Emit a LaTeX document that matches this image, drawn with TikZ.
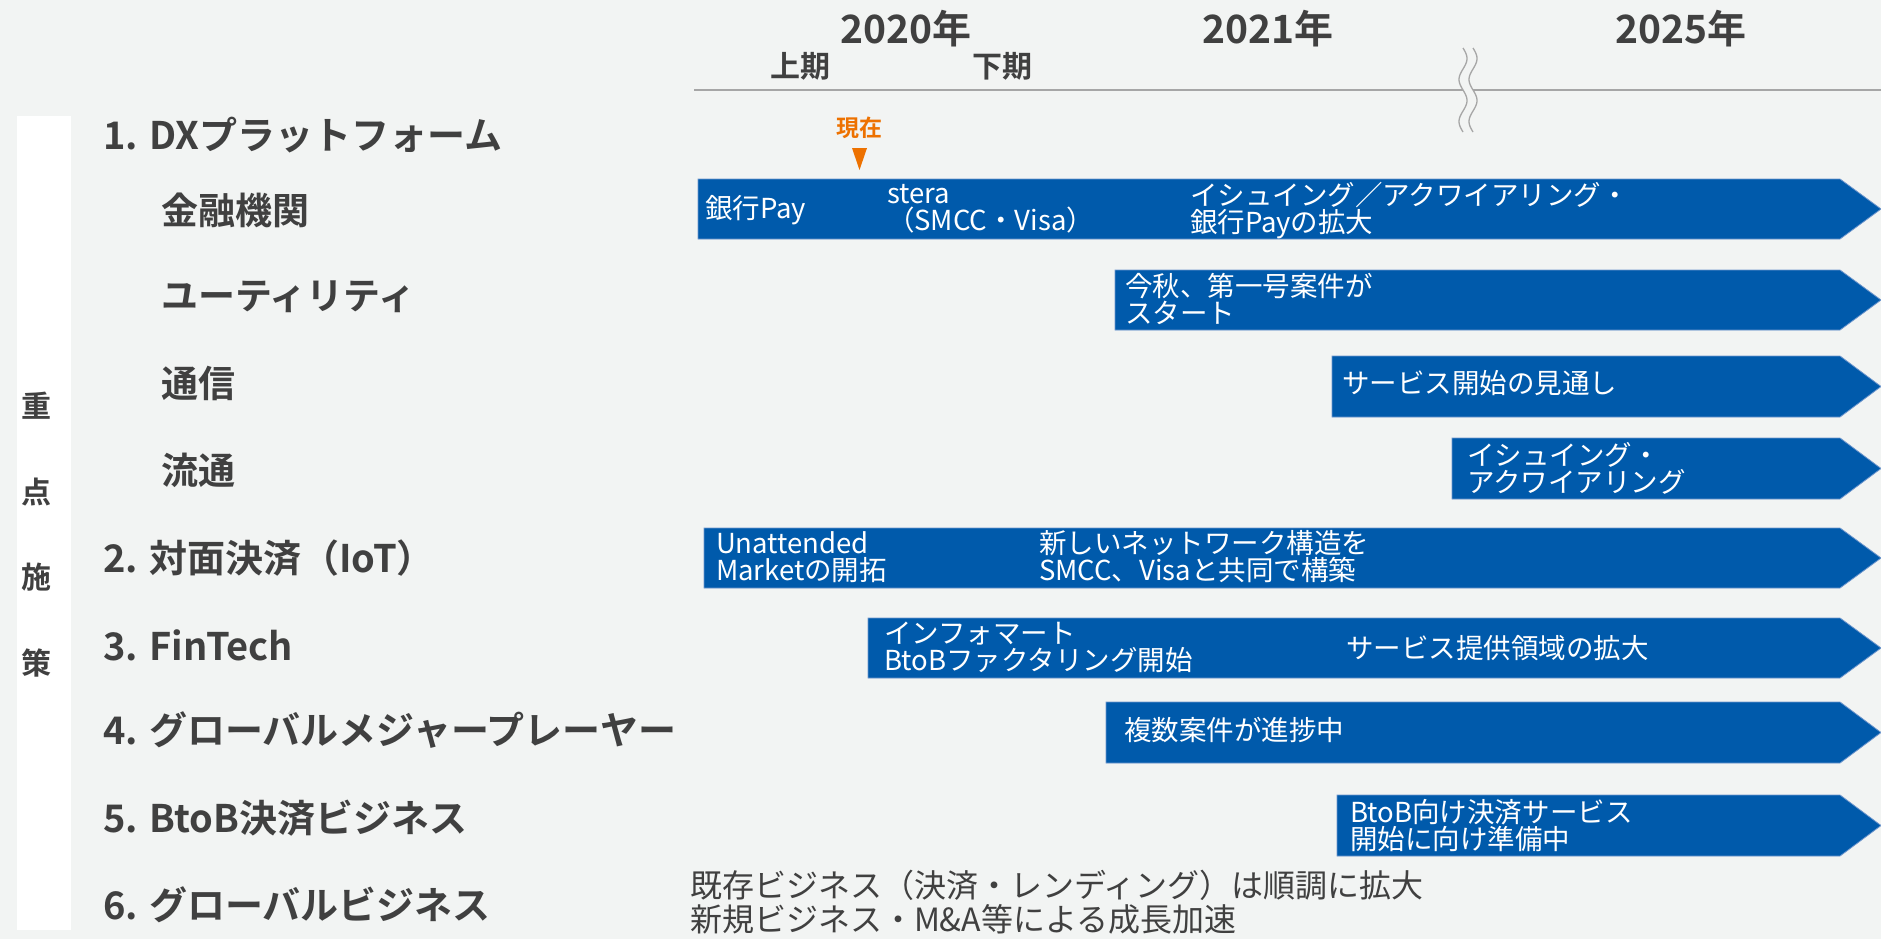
\documentclass[tikz,border=0pt]{standalone}
\usepackage{fontspec}
\setmainfont{Noto Sans CJK JP}[BoldFont={Noto Sans CJK JP Bold}]
\definecolor{bgcol}{RGB}{242,244,243}
\definecolor{barblue}{RGB}{0,90,171}
\definecolor{baredge}{RGB}{110,150,205}
\definecolor{txtgray}{RGB}{64,64,64}
\definecolor{linegray}{RGB}{166,166,166}
\definecolor{nowor}{RGB}{237,113,0}
\newcommand\arrowbarshape[3]{\path[arrowbar] (#1,#2) -- (1840,#2) -- (1881,{(#2+#3)/2}) -- (1840,#3) -- (#1,#3) -- cycle;}
\begin{document}
\begin{tikzpicture}[x=1pt,y=-1pt,
  every node/.style={inner sep=0pt, outer sep=0pt},
  arrowbar/.style={fill=barblue, draw=baredge, line width=0.8pt},
  catlabel/.style={anchor=west, text=txtgray, font=\fontsize{38}{44}\selectfont\bfseries},
  sublabel/.style={anchor=west, text=txtgray, font=\fontsize{37}{44}\selectfont\bfseries},
  vchar/.style={text=txtgray, font=\fontsize{30}{34}\selectfont\bfseries},
  yearlabel/.style={text=txtgray, font=\fontsize{39}{44}\selectfont\bfseries},
  halflabel/.style={text=txtgray, font=\fontsize{30}{34}\selectfont\bfseries},
  nowlabel/.style={text=nowor, font=\fontsize{23}{26}\selectfont\bfseries},
  bartext/.style={anchor=west, align=left, text=white, font=\fontsize{27.5}{27}\selectfont},
  bottomtxt/.style={anchor=west, align=left, text=txtgray, font=\fontsize{32}{34}\selectfont}
]
\useasboundingbox (0,0) rectangle (1881,939);
\fill[bgcol] (0,0) rectangle (1881,939);
\fill[white] (17,116) rectangle (71,930);

% header
\draw[linegray, line width=2pt] (694,90) -- (1881,90);
\fill[bgcol] plot[domain=48:132, samples=60] ({1463+4*sin((\x-48)*8.5714)}, \x)
  -- plot[domain=132:48, samples=60] ({1473+4*sin((\x-48)*8.5714)}, \x) -- cycle;
\draw[linegray, line width=1.3pt] plot[domain=48:132, samples=60] ({1463+4*sin((\x-48)*8.5714)}, \x);
\draw[linegray, line width=1.3pt] plot[domain=48:132, samples=60] ({1473+4*sin((\x-48)*8.5714)}, \x);

\node[yearlabel] (y20) at (906,29) {2020年};
\node[yearlabel] (y21) at (1268,29) {2021年};
\node[yearlabel] (y25) at (1681,29) {2025年};
\node[halflabel] (h1) at (800,66) {上期};
\node[halflabel] (h2) at (1002,66) {下期};
\node[nowlabel] (now) at (859,128) {現在};
\fill[nowor] (852,148) -- (867,148) -- (859.5,170) -- cycle;

% left labels
\node[vchar] (v1) at (36,406) {重};
\node[vchar] (v2) at (36,492) {点};
\node[vchar] (v3) at (36,577) {施};
\node[vchar] (v4) at (36,663) {策};

\node[catlabel] (c1) at (103,135) {1. DXプラットフォーム};
\node[sublabel] (s1) at (161,210) {金融機関};
\node[sublabel] (s2) at (161,297) {ユーティリティ};
\node[sublabel] (s3) at (161,383) {通信};
\node[sublabel] (s4) at (161,470) {流通};
\node[catlabel] (c2) at (103,558) {2. 対面決済（IoT）};
\node[catlabel] (c3) at (103,645) {3. FinTech};
\node[catlabel] (c4) at (103,730) {4. グローバルメジャープレーヤー};
\node[catlabel] (c5) at (103,818) {5. BtoB決済ビジネス};
\node[catlabel] (c6) at (103,905) {6. グローバルビジネス};

% bars
\arrowbarshape{698}{179}{239}
\arrowbarshape{1115}{270}{330}
\arrowbarshape{1332}{356}{417}
\arrowbarshape{1452}{438}{499}
\arrowbarshape{704}{528}{588}
\arrowbarshape{868}{618}{678}
\arrowbarshape{1106}{702}{763}
\arrowbarshape{1337}{795}{856}

% bar texts
\node[bartext] (t1a) at (705,210) {銀行Pay};
\node[bartext] (t1b) at (887,209) {stera\\（SMCC・Visa）};
\node[bartext] (t1c) at (1190,211) {イシュイング／アクワイアリング・\\銀行Payの拡大};
\node[bartext] (t2) at (1125,299) {今秋、第一号案件が\\スタート};
\node[bartext] (t3) at (1342,383) {サービス開始の見通し};
\node[bartext] (t4) at (1467,468) {イシュイング・\\アクワイアリング};
\node[bartext] (t5a) at (716,557) {Unattended\\Marketの開拓};
\node[bartext] (t5b) at (1039,557) {新しいネットワーク構造を\\SMCC、Visaと共同で構築};
\node[bartext] (t6a) at (884,647) {インフォマート\\BtoBファクタリング開始};
\node[bartext] (t6b) at (1346,648) {サービス提供領域の拡大};
\node[bartext] (t7) at (1124,730) {複数案件が進捗中};
\node[bartext] (t8) at (1350,826) {BtoB向け決済サービス\\開始に向け準備中};

% bottom text
\node[bottomtxt] (bt) at (690,902) {既存ビジネス（決済・レンディング）は順調に拡大\\新規ビジネス・M\&A等による成長加速};
\end{tikzpicture}
\end{document}
